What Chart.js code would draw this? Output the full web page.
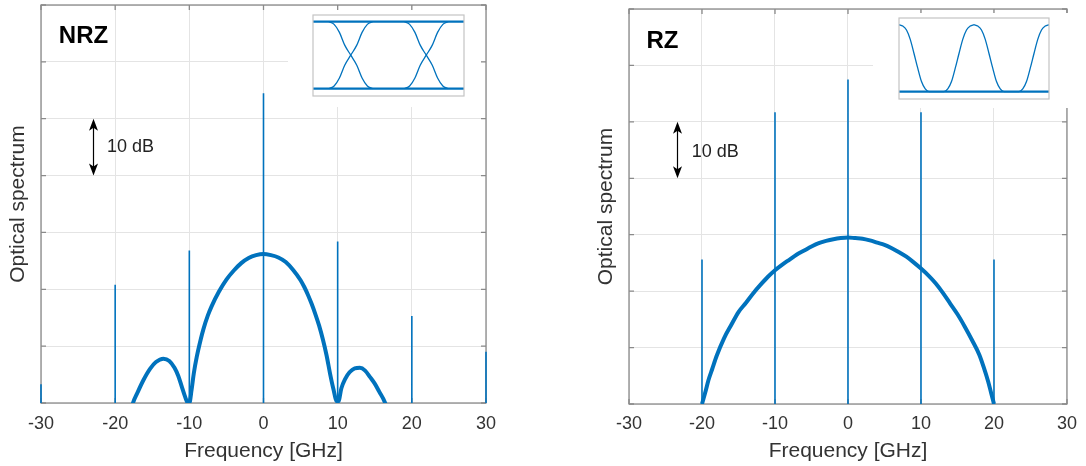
<!DOCTYPE html>
<html>
<head>
<meta charset="utf-8">
<script src="https://cdn.jsdelivr.net/npm/chart.js@4.4.1/dist/chart.umd.min.js"></script>
<style>
  body { margin: 0; background: #fff; }
  #wrap { position: relative; width: 1086px; height: 466px; overflow: hidden; background: #fff; }
  #wrap canvas { position: absolute; }
  .inset { background: #fff; }
</style>
</head>
<body>
<div id="wrap">
  <canvas id="nrz" width="540" height="466" style="left:0;top:0"></canvas>
  <canvas id="rz" width="546" height="466" style="left:540px;top:0"></canvas>
  <canvas id="nrzEye" class="inset" width="193" height="97" style="left:288px;top:10px"></canvas>
  <canvas id="rzEye" class="inset" width="195" height="95" style="left:873px;top:13px"></canvas>
</div>
<script>
const freqTicks = [-30, -20, -10, 0, 10, 20, 30];

// NRZ spectrum (dB above the bottom of the axes)
const nrzFreq = [-18.2, -17.6, -17.0, -16.2, -15.3, -14.5, -13.5, -12.7, -12.0, -11.5, -11.0, -10.6, -10.3, -10.0,
    -9.7, -9.4, -9.0, -8.5, -8.1, -7.5, -7.0, -6.0, -5.0, -4.0, -3.0, -2.0, -1.0, 0,
    1.0, 2.0, 3.0, 4.0, 5.0, 5.5, 6.0, 6.5, 7.0, 7.5, 8.0, 8.5, 9.0, 9.4, 9.9,
    10.1, 10.5, 11.0, 11.6, 12.3, 13.0, 13.7, 14.4, 15.0, 15.6, 16.4, 17.0];
const nrzLevel = [-3, 0, 1.8, 4.0, 6.0, 7.2, 7.8, 7.4, 6.2, 4.8, 2.8, 1.2, 0.2, 0,
    2.3, 5.2, 8.1, 11.0, 13.0, 15.4, 17.0, 19.6, 21.7, 23.3, 24.6, 25.5, 26.0, 26.2,
    26.0, 25.6, 24.8, 23.4, 21.6, 20.4, 19.0, 17.4, 15.6, 13.6, 11.2, 8.4, 5.0, 2.6, 0.3,
    0.3, 2.6, 4.2, 5.4, 6.1, 6.2, 5.7, 4.5, 3.4, 2.0, 0, -3];
const nrzToneFreq = [-30, -20, -10, 0, 10, 20, 30];
const nrzToneLevel = [3.3, 20.8, 26.8, 54.5, 28.4, 15.3, 9.0];

// RZ spectrum
const rzFreq = [-20.0, -19.5, -19.1, -18.6, -18.0, -17.0, -16.0, -15.0, -14.0, -13.0, -12.0, -11.0, -10.0,
    -9.0, -8.0, -7.0, -6.0, -5.0, -4.0, -3.0, -2.0, -1.0, 0,
    1.0, 2.0, 3.0, 4.0, 5.0, 6.0, 7.0, 8.0, 9.0, 10.0, 11.0, 12.0, 13.0, 14.0, 15.0, 16.0, 17.0, 18.0, 18.6, 19.2, 19.6, 20.0];
const rzLevel = [0, 2.3, 4.3, 6.2, 8.5, 11.6, 14.0, 16.3, 17.9, 19.6, 21.1, 22.5, 23.7,
    24.7, 25.6, 26.5, 27.2, 27.9, 28.5, 28.9, 29.2, 29.4, 29.5,
    29.4, 29.3, 29.0, 28.6, 28.2, 27.6, 26.9, 26.1, 25.1, 24.0, 22.8, 21.4, 19.7, 17.8, 15.9, 13.7, 11.3, 8.7, 6.5, 4.0, 2.0, 0];
const rzToneFreq = [-20, -10, 0, 10, 20];
const rzToneLevel = [25.6, 51.7, 57.5, 51.7, 25.6];

// NRZ eye inset: one transition, two bit slots (0..2)
const eyeTime = [0.21, 0.28, 0.35, 0.42, 0.5, 0.58, 0.65, 0.72, 0.79];
const eyeRise = [0, 0.04, 0.16, 0.35, 0.5, 0.65, 0.84, 0.96, 1];
const eyeFall = [1, 0.96, 0.84, 0.65, 0.5, 0.35, 0.16, 0.04, 0];
const eyeCenters = [0, 1];

// RZ pulse inset: one period of the pulse
const pulseTime = [0, 0.05, 0.1, 0.15, 0.2, 0.25, 0.3, 0.35, 0.4, 0.6, 0.65, 0.7, 0.75, 0.8, 0.85, 0.9, 0.95, 1];
const pulseLevel = [1, 0.98, 0.92, 0.78, 0.57, 0.35, 0.15, 0.04, 0, 0, 0.04, 0.15, 0.35, 0.57, 0.78, 0.92, 0.98, 1];
const pulsePeriods = [0, 1];

const BLUE = '#0072BD';
const AXIS = '#8a8a8a';
const GRID = '#e4e4e4';
const TEXT = '#333333';
const FONT = '"Liberation Sans", Arial, sans-serif';

const toPoints = (xs, ys) => xs.map((x, i) => ({ x: x, y: ys[i] }));

function toneSegments(fs, levels) {
    const pts = [];
    fs.forEach((f, i) => {
        pts.push({ x: f, y: 0 }, { x: f, y: levels[i] }, { x: f, y: null });
    });
    return pts;
}

// matlab style box with inward ticks, drawn under the data
const boxPlugin = {
    id: 'box',
    beforeDatasetsDraw(chart) {
        const { ctx, chartArea: a, scales: { x, y } } = chart;
        ctx.save();
        ctx.strokeStyle = AXIS;
        ctx.lineWidth = 1.3;
        ctx.strokeRect(a.left, a.top, a.right - a.left, a.bottom - a.top);
        ctx.beginPath();
        x.ticks.forEach(t => {
            const px = x.getPixelForValue(t.value);
            ctx.moveTo(px, a.bottom); ctx.lineTo(px, a.bottom - 5);
            ctx.moveTo(px, a.top); ctx.lineTo(px, a.top + 5);
        });
        y.ticks.forEach(t => {
            const py = y.getPixelForValue(t.value);
            ctx.moveTo(a.left, py); ctx.lineTo(a.left + 5, py);
            ctx.moveTo(a.right, py); ctx.lineTo(a.right - 5, py);
        });
        ctx.stroke();
        ctx.restore();
    }
};

function arrowHead(ctx, x, tipY, dir) {
    ctx.beginPath();
    ctx.moveTo(x, tipY);
    ctx.lineTo(x - 4.5, tipY + dir * 12);
    ctx.lineTo(x, tipY + dir * 9);
    ctx.lineTo(x + 4.5, tipY + dir * 12);
    ctx.closePath();
    ctx.fill();
}

const notesPlugin = {
    id: 'notes',
    afterDraw(chart, args, o) {
        const { ctx, scales: { x, y } } = chart;
        ctx.save();
        ctx.textBaseline = 'middle';
        ctx.fillStyle = '#000';
        ctx.font = 'bold 24px ' + FONT;
        ctx.fillText(o.label, x.getPixelForValue(o.labelAt[0]), y.getPixelForValue(o.labelAt[1]));

        const ax = Math.round(x.getPixelForValue(o.arrowX)) + 0.5;
        const top = y.getPixelForValue(o.arrowTo);
        const bottom = y.getPixelForValue(o.arrowFrom);
        ctx.strokeStyle = '#000';
        ctx.lineWidth = 1.2;
        ctx.beginPath();
        ctx.moveTo(ax, top + 8);
        ctx.lineTo(ax, bottom - 8);
        ctx.stroke();
        arrowHead(ctx, ax, top, 1);
        arrowHead(ctx, ax, bottom, -1);

        ctx.fillStyle = '#222';
        ctx.font = '18px ' + FONT;
        ctx.fillText('10 dB', x.getPixelForValue(o.dbAt[0]), y.getPixelForValue(o.dbAt[1]));
        ctx.restore();
    }
};

function spectrumChart(id, freq, level, toneF, toneL, cfg) {
    return new Chart(document.getElementById(id), {
        type: 'line',
        data: {
            datasets: [{
                data: toneSegments(toneF, toneL),
                borderColor: BLUE,
                borderWidth: 1.6,
                pointRadius: 0,
                spanGaps: false,
                tension: 0,
                clip: false
            }, {
                data: toPoints(freq, level),
                borderColor: BLUE,
                borderWidth: 4,
                pointRadius: 0,
                cubicInterpolationMode: 'monotone'
            }]
        },
        options: {
            responsive: false,
            animation: false,
            layout: { padding: cfg.padding },
            plugins: {
                legend: { display: false },
                tooltip: { enabled: false },
                notes: cfg.notes
            },
            scales: {
                x: {
                    type: 'linear',
                    min: -30,
                    max: 30,
                    afterBuildTicks: s => { s.ticks = freqTicks.map(v => ({ value: v })); },
                    grid: { color: GRID, drawTicks: false },
                    border: { display: false },
                    ticks: {
                        color: TEXT,
                        font: { family: FONT, size: 18 },
                        padding: cfg.tickPad,
                        maxRotation: 0,
                        autoSkip: false
                    },
                    title: {
                        display: true,
                        text: 'Frequency [GHz]',
                        color: TEXT,
                        font: { family: FONT, size: 21 },
                        padding: { top: 0, bottom: 2 }
                    },
                    afterFit: s => { s.height = cfg.xHeight; }
                },
                y: {
                    type: 'linear',
                    min: 0,
                    max: 70,
                    ticks: { display: false, stepSize: 10 },
                    grid: { color: GRID, drawTicks: false },
                    border: { display: false },
                    title: {
                        display: true,
                        text: 'Optical spectrum',
                        color: TEXT,
                        font: { family: FONT, size: 21 },
                        padding: { top: 6, bottom: 0 }
                    },
                    afterFit: s => { s.width = 41; }
                }
            }
        },
        plugins: [boxPlugin, notesPlugin]
    });
}

const insetBox = {
    id: 'insetBox',
    afterDraw(chart) {
        const { ctx, chartArea: a } = chart;
        ctx.save();
        ctx.strokeStyle = '#c4c4c4';
        ctx.lineWidth = 1.2;
        ctx.strokeRect(a.left, a.top, a.right - a.left, a.bottom - a.top);
        ctx.restore();
    }
};

function insetChart(id, datasets, pad) {
    return new Chart(document.getElementById(id), {
        type: 'line',
        data: { datasets: datasets },
        options: {
            responsive: false,
            animation: false,
            layout: { padding: pad },
            plugins: { legend: { display: false }, tooltip: { enabled: false } },
            elements: { point: { radius: 0 } },
            scales: {
                x: { type: 'linear', min: 0, max: 2, display: false },
                y: { type: 'linear', min: -0.11, max: 1.1, display: false }
            }
        },
        plugins: [insetBox]
    });
}

spectrumChart('nrz', nrzFreq, nrzLevel, nrzToneFreq, nrzToneLevel, {
    padding: { left: 0, top: 5, right: 54, bottom: 0 },
    xHeight: 63,
    tickPad: 10,
    notes: { label: 'NRZ', labelAt: [-27.6, 64.4], arrowX: -22.95, arrowFrom: 40, arrowTo: 50, dbAt: [-21.1, 45] }
});

spectrumChart('rz', rzFreq, rzLevel, rzToneFreq, rzToneLevel, {
    padding: { left: 48, top: 9, right: 13, bottom: 0 },
    xHeight: 62,
    tickPad: 9,
    notes: { label: 'RZ', labelAt: [-27.6, 64.2], arrowX: -23.4, arrowFrom: 40, arrowTo: 50, dbAt: [-21.4, 44.7] }
});

const thin = { borderColor: BLUE, borderWidth: 1.3, cubicInterpolationMode: 'monotone' };
const flat = { borderColor: BLUE, borderWidth: 2.2 };

const eyeSets = [
    Object.assign({ data: [{ x: 0, y: 1 }, { x: 2, y: 1 }] }, flat),
    Object.assign({ data: [{ x: 0, y: 0 }, { x: 2, y: 0 }] }, flat)
];
eyeCenters.forEach(c => {
    eyeSets.push(Object.assign({ data: toPoints(eyeTime.map(t => t + c), eyeRise) }, thin));
    eyeSets.push(Object.assign({ data: toPoints(eyeTime.map(t => t + c), eyeFall) }, thin));
});
insetChart('nrzEye', eyeSets, { left: 25, right: 17, top: 5, bottom: 11 });

const pulseSets = [Object.assign({ data: [{ x: 0, y: 0 }, { x: 2, y: 0 }] }, flat)];
pulsePeriods.forEach(p => {
    pulseSets.push(Object.assign({ data: toPoints(pulseTime.map(t => t + p), pulseLevel) }, thin));
});
insetChart('rzEye', pulseSets, { left: 26, right: 19, top: 5, bottom: 9 });
</script>
</body>
</html>
